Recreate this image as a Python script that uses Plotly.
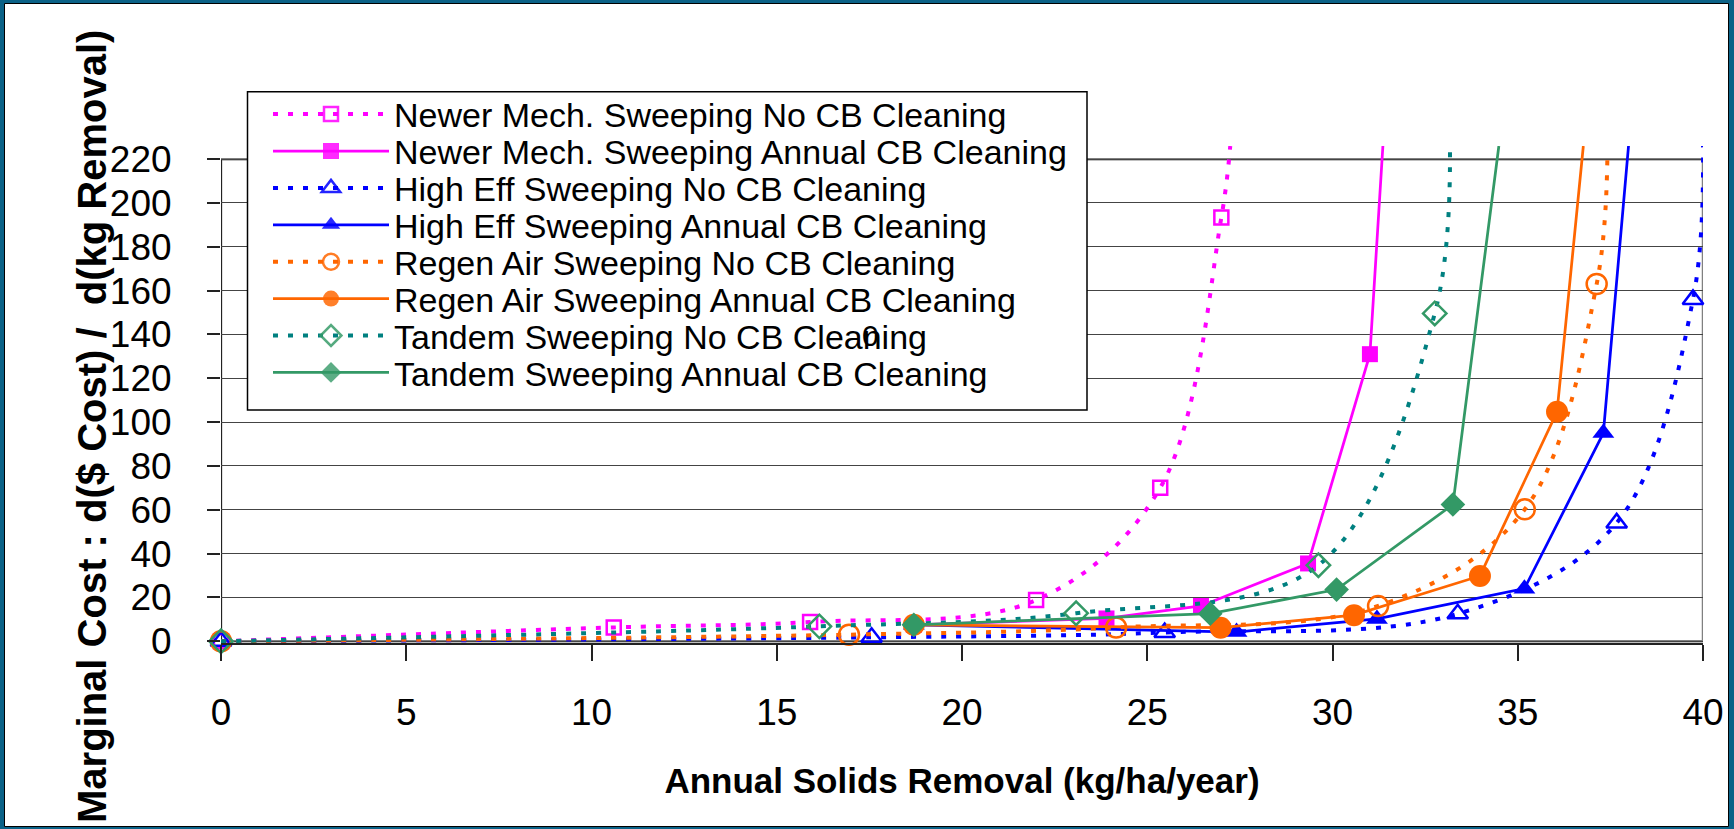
import plotly.graph_objects as go

# values: x = annual solids removal (kg/ha/yr), y = marginal cost
# the last point of each series is where its line leaves the top of the chart
names = [
    "Newer Mech. Sweeping No CB Cleaning",
    "Newer Mech. Sweeping Annual CB Cleaning",
    "High Eff Sweeping No CB Cleaning",
    "High Eff Sweeping Annual CB Cleaning",
    "Regen Air Sweeping No CB Cleaning",
    "Regen Air Sweeping Annual CB Cleaning",
    "Tandem Sweeping No CB Cleaning",
    "Tandem Sweeping Annual CB Cleaning",
]

newer_no_x = [0, 10.6, 15.9, 22.0, 25.35, 27.0, 27.24]
newer_no_y = [0, 6.3, 8.8, 18.8, 70.0, 193.4, 226]
newer_cb_x = [18.7, 23.9, 26.45, 29.34, 31.01, 31.36]
newer_cb_y = [7.5, 10.4, 16.1, 35.5, 131, 226]

higheff_no_x = [0, 17.56, 25.47, 33.38, 37.67, 39.73, 40.0]
higheff_no_y = [0, 1.8, 4.0, 12.5, 54.0, 156, 226]
higheff_cb_x = [18.7, 27.41, 31.2, 35.18, 37.31, 37.99]
higheff_cb_y = [7.5, 4.2, 10.2, 24.0, 95, 226]

regen_no_x = [0, 16.95, 24.16, 31.23, 35.19, 37.13, 37.42]
regen_no_y = [0, 3.0, 6.3, 16.1, 60.2, 163, 221.8]
regen_cb_x = [18.7, 26.98, 30.58, 33.98, 36.06, 36.77]
regen_cb_y = [7.5, 6.2, 11.9, 29.8, 104.7, 226]

tandem_no_x = [0, 16.15, 23.08, 29.62, 32.76, 33.17]
tandem_no_y = [0, 6.8, 12.8, 34.7, 149.6, 226]
tandem_cb_x = [18.7, 26.7, 30.11, 33.25, 34.49]
tandem_cb_y = [7.5, 12.6, 23.6, 62.4, 226]

x_ticks = [0, 5, 10, 15, 20, 25, 30, 35, 40]
y_ticks = [0, 20, 40, 60, 80, 100, 120, 140, 160, 180, 200, 220]

xs = [newer_no_x, newer_cb_x, higheff_no_x, higheff_cb_x,
      regen_no_x, regen_cb_x, tandem_no_x, tandem_cb_x]
ys = [newer_no_y, newer_cb_y, higheff_no_y, higheff_cb_y,
      regen_no_y, regen_cb_y, tandem_no_y, tandem_cb_y]

# (line colour, marker colour, symbol, marker size, dotted?)
styles = [
    ("#FF00FF", "#FF00FF", "square-open", 14, True),
    ("#FF00FF", "#FF00FF", "square", 16, False),
    ("#0000FF", "#0000FF", "triangle-up-open", 18, True),
    ("#0000FF", "#0000FF", "triangle-up", 19, False),
    ("#FF6600", "#FF6600", "circle-open", 20, True),
    ("#FF6600", "#FF6600", "circle", 22, False),
    ("#008080", "#339966", "diamond-open", 18, True),
    ("#339966", "#339966", "diamond", 19, False),
]

FONT = "Liberation Sans, Arial, sans-serif"
W, H = 1734, 829
ML, MR, MT, MB = 221, 31, 146, 186
PW, PH = W - ML - MR, H - MT - MB


def px_x(p):
    return (p - ML) / PW


def px_y(p):
    return (H - MB - p) / PH


fig = go.Figure()
for i, (name, x, y, st) in enumerate(zip(names, xs, ys, styles)):
    lc, mc, sym, ms, dotted = st
    fig.add_trace(go.Scatter(
        x=x, y=y, name=name, mode="lines+markers",
        line=dict(color=lc, width=4 if dotted else 2.75,
                  dash="5px,10px" if dotted else "solid",
                  shape="spline" if dotted else "linear"),
        marker=dict(symbol=sym, size=ms, color=mc,
                    opacity=[1] * (len(x) - 1) + [0],
                    line=dict(color=mc, width=2.5 if dotted else 0)),
        cliponaxis=False,
        legend="legend" if i == 0 else "legend%d" % (i + 1),
    ))

# one legend per row so the rows can sit as close together as in the original
row0, pitch = 114.5, 36.9
legends = {}
for i in range(len(names)):
    key = "legend" if i == 0 else "legend%d" % (i + 1)
    legends[key] = dict(
        x=px_x(268), y=px_y(row0 + i * pitch), xanchor="left", yanchor="middle",
        bgcolor="rgba(0,0,0,0)", borderwidth=0, itemwidth=116,
        font=dict(family=FONT, size=34, color="black"),
    )

fig.update_layout(
    width=W, height=H, showlegend=True,
    margin=dict(l=ML, r=MR, t=MT, b=MB, autoexpand=False),
    paper_bgcolor="#0B6287", plot_bgcolor="rgba(0,0,0,0)",
    font=dict(family=FONT, color="black"),
    **legends,
)

fig.update_xaxes(
    range=[0, 40], tickvals=x_ticks, ticks="outside", ticklen=16,
    tickwidth=1.5, tickcolor="#222", showgrid=False, zeroline=False,
    showline=True, linecolor="#222", linewidth=2,
    tickfont=dict(family=FONT, size=37), ticklabelstandoff=20,
    title=dict(text="<b>Annual Solids Removal (kg/ha/year)</b>",
               font=dict(family=FONT, size=35), standoff=36),
)
fig.update_yaxes(
    range=[-0.8, 226], tickvals=y_ticks, ticks="outside", ticklen=13,
    tickwidth=1.5, tickcolor="#222", showgrid=True, gridcolor="#444",
    gridwidth=1, zeroline=False, showline=False,
    tickfont=dict(family=FONT, size=37), ticklabelstandoff=28,
)

# outer white panel inside the dark frame
fig.add_shape(type="rect", xref="paper", yref="paper", layer="below",
              x0=px_x(4.5), x1=px_x(1728.5), y0=px_y(826.5), y1=px_y(3.5),
              fillcolor="white", line=dict(color="black", width=1))
# plot-area border and the value axis line (only up to the top tick)
fig.add_shape(type="rect", xref="x", yref="y", layer="below",
              x0=x_ticks[0], x1=x_ticks[-1], y0=y_ticks[0], y1=y_ticks[-1],
              line=dict(color="#808080", width=2.5))
fig.add_shape(type="line", xref="x", yref="y", layer="below",
              x0=x_ticks[0], x1=x_ticks[0], y0=y_ticks[0], y1=y_ticks[-1],
              line=dict(color="#222", width=2))
# legend box
fig.add_shape(type="rect", xref="paper", yref="paper", layer="above",
              x0=px_x(247.5), x1=px_x(1087), y0=px_y(410), y1=px_y(91.7),
              fillcolor="white", line=dict(color="black", width=1.5))

fig.add_annotation(
    text="<b>Marginal Cost : d($ Cost) /  d(kg Removal)</b>",
    xref="paper", yref="paper", x=px_x(92), y=px_y(427),
    xanchor="center", yanchor="middle", textangle=-90, showarrow=False,
    font=dict(family=FONT, size=40, color="black"),
)
# stray "0" label that sits over the seventh legend entry in the original
fig.add_annotation(
    text="0", xref="paper", yref="paper", x=px_x(870), y=px_y(row0 + 6 * pitch),
    xanchor="center", yanchor="middle", showarrow=False,
    font=dict(family=FONT, size=30, color="black"),
)

fig.write_html("out.html", config={"displayModeBar": False},
               post_script="document.body.style.margin='0';")
